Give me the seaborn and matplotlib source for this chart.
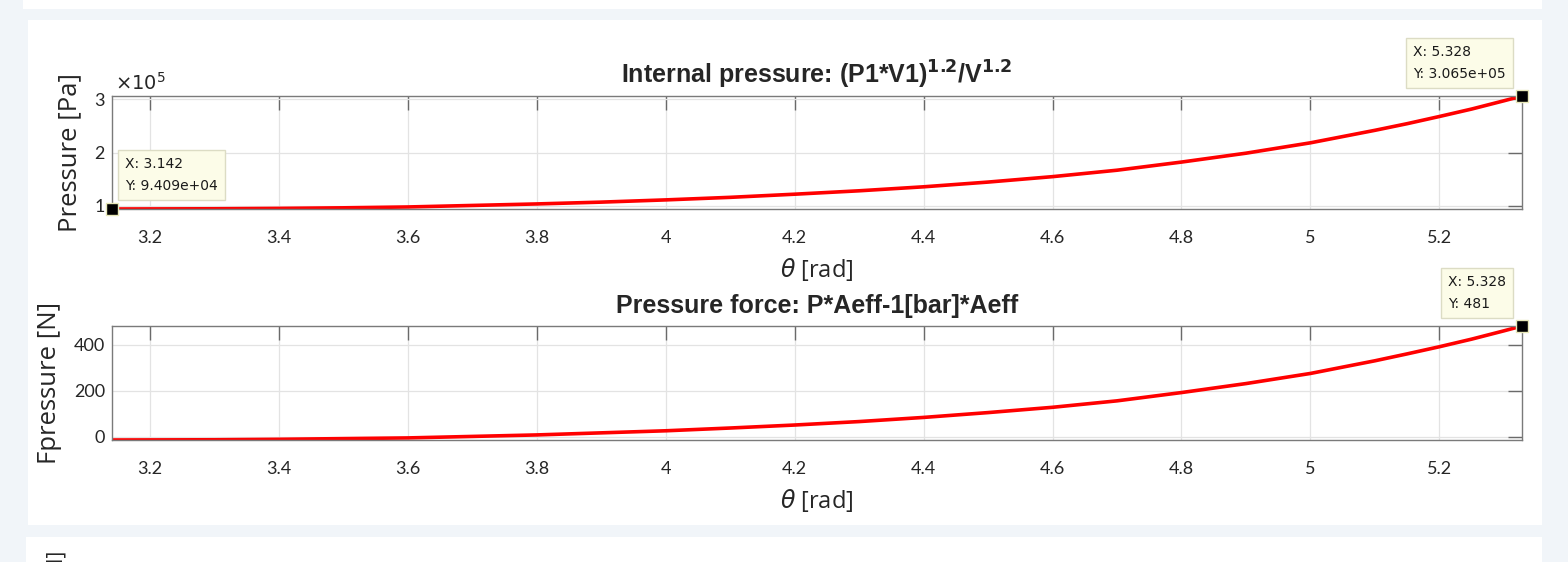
import matplotlib
matplotlib.use("Agg")
import matplotlib.pyplot as plt
from matplotlib.patches import Rectangle
import seaborn as sns
import pandas as pd

# values
theta = [3.142, 3.3, 3.4, 3.5, 3.6, 3.8, 3.9, 4.0, 4.1, 4.2, 4.3, 4.4, 4.5,
         4.6, 4.7, 4.8, 4.9, 5.0, 5.1, 5.15, 5.2, 5.25, 5.3, 5.328]
pressure = [0.9409, 0.945, 0.952, 0.963, 0.979, 1.036, 1.070, 1.112, 1.160,
            1.219, 1.283, 1.358, 1.447, 1.549, 1.670, 1.823, 1.990, 2.185,
            2.420, 2.545, 2.680, 2.820, 2.975, 3.065]  # x 1e5 Pa
force = [-14, -13, -11, -8, -5, 8, 17, 26, 38, 51, 66, 84, 105, 128, 156,
         192, 231, 275, 330, 360, 391, 424, 460, 481]
xticks = [3.2, 3.4, 3.6, 3.8, 4.0, 4.2, 4.4, 4.6, 4.8, 5.0, 5.2]
xtick_labels = ["3.2", "3.4", "3.6", "3.8", "4", "4.2", "4.4", "4.6", "4.8", "5", "5.2"]

df = pd.DataFrame({"theta": theta,
                   "P": [p * 1e5 for p in pressure],
                   "F": force})

sns.set_theme(style="white")
plt.rcParams["font.family"] = ["Lato", "DejaVu Sans"]

W, H = 1568, 562
fig = plt.figure(figsize=(W / 100, H / 100), dpi=100)
fig.patch.set_facecolor("#f1f5f9")

# white page panels behind the figure
for (x0, y0, x1, y1) in [(23, 0, 1542, 9), (28, 20, 1542, 525), (26, 537, 1542, 562)]:
    fig.add_artist(Rectangle((x0 / W, 1 - y1 / H), (x1 - x0) / W, (y1 - y0) / H,
                             transform=fig.transFigure, fc="white", ec="none", zorder=-1))
fig.text(57 / W, 1 - 551 / H, "Torque [N]", rotation=90, ha="center", va="top",
         fontsize=15, family="Open Sans", color="#262626")

ax1 = fig.add_axes([112 / W, 1 - 209 / H, 1410 / W, 113 / H])
ax2 = fig.add_axes([112 / W, 1 - 440 / H, 1410 / W, 114 / H])


def style(ax):
    ax.set_facecolor("white")
    ax.set_xlim(3.1416, 5.328)
    ax.set_xticks(xticks)
    ax.set_xticklabels(xtick_labels)
    ax.grid(True, color="#e3e3e3", lw=0.9)
    for s in ax.spines.values():
        s.set_color("#7a7a7a")
        s.set_linewidth(1.0)
    ax.tick_params(direction="in", length=10, width=1.0, color="#6a6a6a",
                   top=True, right=True, labelsize=13, labelcolor="#262626")
    ax.tick_params(axis="x", pad=15)
    ax.tick_params(axis="y", pad=5)
    ax.set_xlabel(r"$\theta$ [rad]", fontsize=17, family="Open Sans",
                  color="#262626", labelpad=7)


def datatip(ax, x, y, txt, dx, dy, ha):
    ax.plot([x], [y], "s", ms=8, mfc="black", mec="#e8e8b8", mew=1,
            clip_on=False, zorder=6)
    ax.annotate(txt, (x, y), xytext=(dx, dy), textcoords="offset pixels",
                ha=ha, va="bottom", multialignment="left", fontsize=10,
                family="DejaVu Sans", color="#1a1a1a", linespacing=1.75,
                annotation_clip=False, zorder=7,
                bbox=dict(boxstyle="square,pad=0.5", fc="#fcfce8", ec="#dcdcc4", lw=1))


# internal pressure
sns.lineplot(data=df, x="theta", y="P", ax=ax1, color="red", lw=2.6)
style(ax1)
ax1.set_ylim(0.9409e5, 3.065e5)
ax1.set_yticks([1e5, 2e5, 3e5])
ax1.set_yticklabels(["1", "2", "3"])
ax1.set_ylabel("Pressure [Pa]", fontsize=18.5, family="Open Sans", color="#262626")
ax1.yaxis.set_label_coords(-0.0213, 0.5)
ax1.text(0.002, 1.03, r"$\times10^5$", transform=ax1.transAxes, fontsize=14,
         color="#262626", va="bottom", ha="left")
ax1.set_title(r"Internal pressure: (P1*V1)$^{\mathbf{1.2}}$/V$^{\mathbf{1.2}}$",
              fontsize=18, fontweight="bold", family="Liberation Sans", pad=9)
datatip(ax1, theta[0], pressure[0] * 1e5, "X: 3.142\nY: 9.409e+04", 13, 16, "left")
datatip(ax1, theta[-1], pressure[-1] * 1e5, "X: 5.328\nY: 3.065e+05", -16, 15, "right")

# pressure force
sns.lineplot(data=df, x="theta", y="F", ax=ax2, color="red", lw=2.6)
style(ax2)
ax2.set_ylim(-14, 481)
ax2.set_yticks([0, 200, 400])
ax2.set_ylabel("Fpressure [N]", fontsize=18.5, family="Open Sans", color="#262626")
ax2.yaxis.set_label_coords(-0.0355, 0.5)
ax2.set_title("Pressure force: P*Aeff-1[bar]*Aeff",
              fontsize=18, fontweight="bold", family="Liberation Sans", pad=9)
datatip(ax2, theta[-1], force[-1], "X: 5.328\nY: 481", -16, 15, "right")

fig.savefig("out.png", dpi=100, facecolor=fig.get_facecolor())
